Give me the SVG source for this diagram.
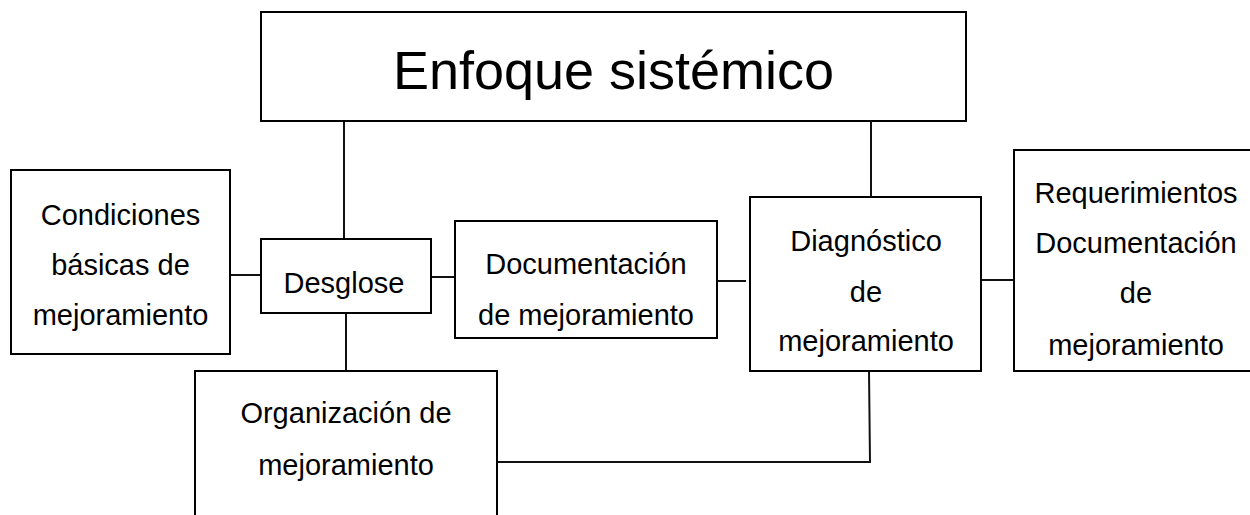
<svg xmlns="http://www.w3.org/2000/svg" width="1250" height="515" viewBox="0 0 1250 515">
<style>
.box{fill:#fff;stroke:#000;stroke-width:2}
.t{font-family:"Liberation Sans",Arial,sans-serif;font-size:29px;fill:#000;text-anchor:middle}
.big{font-size:54px}
.c{fill:none;stroke:#111;stroke-width:2}
</style>
<defs>
<clipPath id="clipDoc"><rect x="455" y="221" width="262" height="116"/></clipPath>
</defs>
<rect width="1250" height="515" fill="#fff"/>
<g id="connectors">
<line class="c" x1="344" y1="121" x2="344" y2="239"/>
<line class="c" x1="871" y1="121" x2="871" y2="197"/>
<line class="c" x1="230" y1="275" x2="261" y2="275"/>
<line class="c" x1="431" y1="277" x2="455" y2="277"/>
<line class="c" x1="717" y1="281" x2="746" y2="281"/>
<line class="c" x1="981" y1="280" x2="1014" y2="280"/>
<line class="c" x1="346" y1="313" x2="346" y2="371"/>
<polyline class="c" points="497,462 870,462 869,371"/>
</g>
<g id="enfoque">
<rect class="box" x="261" y="12" width="705" height="109"/>
<text class="t big" x="613.5" y="89">Enfoque sistémico</text>
</g>
<g id="condiciones">
<rect class="box" x="11" y="170" width="219" height="184"/>
<text class="t" x="120.5" y="225">Condiciones</text>
<text class="t" x="120.5" y="275">básicas de</text>
<text class="t" x="120.5" y="325">mejoramiento</text>
</g>
<g id="desglose">
<rect class="box" x="261" y="239" width="170" height="74"/>
<text class="t" x="344" y="293">Desglose</text>
</g>
<g id="documentacion">
<rect class="box" x="455" y="221" width="262" height="117"/>
<g clip-path="url(#clipDoc)">
<text class="t" x="586" y="274">Documentación</text>
<text class="t" x="586" y="325">de mejoramiento</text>
</g>
</g>
<g id="diagnostico">
<rect class="box" x="750" y="197" width="231" height="174"/>
<text class="t" x="866" y="251">Diagnóstico</text>
<text class="t" x="866" y="302">de</text>
<text class="t" x="866" y="351">mejoramiento</text>
</g>
<g id="requerimientos">
<rect class="box" x="1014" y="150" width="245" height="221"/>
<text class="t" x="1136" y="203">Requerimientos</text>
<text class="t" x="1136" y="253">Documentación</text>
<text class="t" x="1136" y="303">de</text>
<text class="t" x="1136" y="355">mejoramiento</text>
</g>
<g id="organizacion">
<rect class="box" x="195" y="371" width="302" height="170"/>
<text class="t" x="346" y="423">Organización de</text>
<text class="t" x="346" y="475">mejoramiento</text>
</g>
</svg>
